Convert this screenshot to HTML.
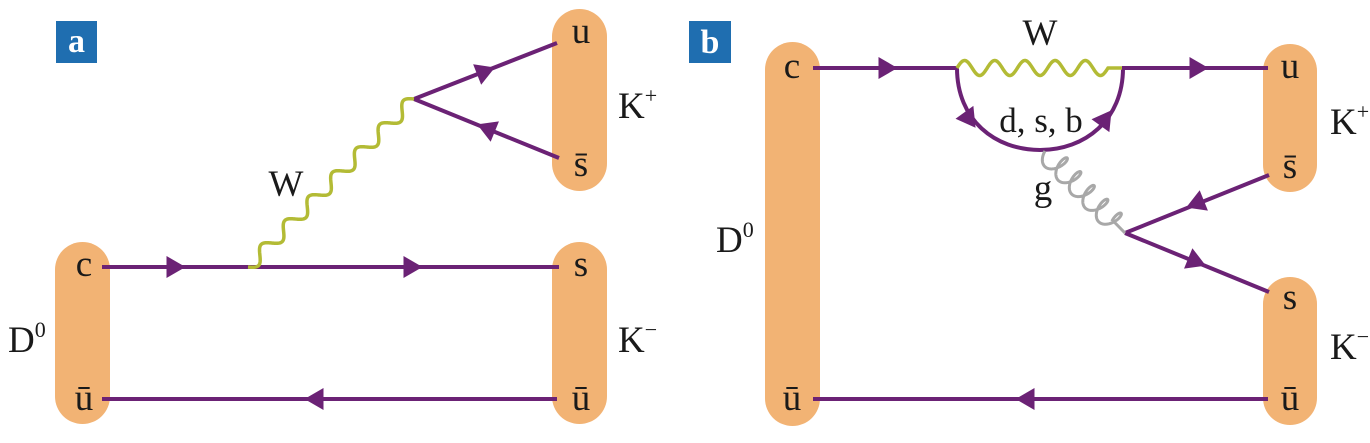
<!DOCTYPE html>
<html><head><meta charset="utf-8"><style>
html,body{margin:0;padding:0;background:#fff;}
svg{display:block;}
text{font-family:"Liberation Serif",serif;fill:#1a1a1a;}
.b{font-family:"Liberation Serif",serif;font-weight:bold;fill:#fff;}
</style></head><body>
<svg id="s" width="1370" height="443" viewBox="0 0 1370 443" xmlns="http://www.w3.org/2000/svg">
<g fill="#f2b374">
<rect x="55" y="242" width="55" height="182" rx="27.5"/>
<rect x="552" y="9" width="55" height="182" rx="27.5"/>
<rect x="552" y="242" width="55" height="182" rx="27.5"/>
<rect x="765" y="42" width="55" height="384" rx="27.5"/>
<rect x="1263" y="44" width="54" height="148" rx="27"/>
<rect x="1263" y="277" width="54" height="148" rx="27"/>
</g>
<rect x="56" y="21" width="41" height="42" fill="#1f6eb0"/>
<text class="b" x="76.5" y="52" font-size="34" text-anchor="middle">a</text>
<rect x="689" y="21" width="42" height="42" fill="#1f6eb0"/>
<text class="b" x="710" y="53" font-size="34" text-anchor="middle">b</text>
<g id="lines" stroke="#6b2275" stroke-width="4" fill="none">
<line x1="102" y1="267" x2="559" y2="267"/>
<line x1="102" y1="399" x2="557" y2="399"/>
<line x1="414" y1="99" x2="557" y2="43"/>
<line x1="414" y1="99" x2="559" y2="158"/>
<line x1="813" y1="68" x2="957" y2="68"/>
<line x1="1122" y1="68" x2="1268" y2="68"/>
<line x1="813" y1="399" x2="1268" y2="399"/>
<line x1="1125" y1="233" x2="1269" y2="175"/>
<line x1="1125" y1="233" x2="1269" y2="292"/>
<path d="M957 68 C957 120 995 150 1040 150 C1085 150 1123 120 1123 68"/>
</g>
<g id="dyn"></g>
<g font-size="37" text-anchor="middle">
<text x="84" y="276">c</text>
<text x="84" y="410">ū</text>
<text x="581" y="43">u</text>
<text x="581" y="176">s̄</text>
<text x="581" y="276">s</text>
<text x="581" y="410">ū</text>
<text x="792" y="78">c</text>
<text x="792" y="410">ū</text>
<text x="1290" y="78">u</text>
<text x="1290" y="178">s̄</text>
<text x="1290" y="309">s</text>
<text x="1290" y="410">ū</text>
<text x="1041" y="132" font-size="35">d, s, b</text>
<text x="1043" y="200">g</text>
<text x="286" y="196">W</text>
<text x="1040" y="45">W</text>
</g>
<g font-size="37">
<text x="8" y="352">D<tspan font-size="22" dy="-15">0</tspan></text>
<text x="618" y="118">K<tspan font-size="22" dy="-15">+</tspan></text>
<text x="618" y="352">K<tspan font-size="22" dy="-15">−</tspan></text>
<text x="716" y="252">D<tspan font-size="22" dy="-15">0</tspan></text>
<text x="1330" y="134">K<tspan font-size="22" dy="-15">+</tspan></text>
<text x="1330" y="359">K<tspan font-size="22" dy="-15">−</tspan></text>
</g>
</svg>
<script>
var NS="http://www.w3.org/2000/svg",g=document.getElementById("dyn");
function el(n,a){var e=document.createElementNS(NS,n);for(var k in a)e.setAttribute(k,a[k]);g.appendChild(e);return e;}
function arrow(x,y,ang){var L=19,W=11,c=Math.cos(ang),s=Math.sin(ang);
var tx=x+c*L/2,ty=y+s*L/2,bx=x-c*L/2,by=y-s*L/2;
el("polygon",{points:tx+","+ty+" "+(bx-s*W)+","+(by+c*W)+" "+(bx+s*W)+","+(by-c*W),fill:"#6b2275"});}
function wave(x1,y1,x2,y2,n,A,col,flat){var dx=x2-x1,dy=y2-y1,L=Math.hypot(dx,dy),ux=dx/L,uy=dy/L,px=-uy,py=ux;
var d="",N=400,Lw=L-(flat||0);for(var i=0;i<=N;i++){var t=i/N*L,off=t<=Lw?A*Math.sin(2*Math.PI*n*t/Lw):0;
var x=x1+ux*t+px*off,y=y1+uy*t+py*off;d+=(i?"L":"M")+x.toFixed(2)+" "+y.toFixed(2);}
el("path",{d:d,stroke:col,"stroke-width":3.5,fill:"none"});}
function coil(x1,y1,x2,y2,n,R,K,col){var dx=x2-x1,dy=y2-y1,L=Math.hypot(dx,dy),ux=dx/L,uy=dy/L,px=-uy,py=ux;
var d="",N=600,Lc=L-2*K-6;for(var i=0;i<=N;i++){var f=i/N,th=2*Math.PI*n*f;
var a=Lc*f+K*(1-Math.cos(th)), b=R*Math.sin(th);
var x=x1+ux*a+px*b,y=y1+uy*a+py*b;d+=(i?"L":"M")+x.toFixed(2)+" "+y.toFixed(2);}
d+="L"+x2+" "+y2;
el("path",{d:d,stroke:"#a8a8a8","stroke-width":3,fill:"none"});}
wave(248,267,414,99,7,6.5,"#b3bb35",0);
wave(957,68,1122,68,5,-7.5,"#b3bb35",14);
coil(1045,151,1125,233,5,11,6,"#aaa");
arrow(176,267,0);arrow(413,267,0);arrow(314,399,Math.PI);
arrow(486,71,Math.atan2(43-99,557-414));
arrow(486,128,Math.atan2(99-158,414-559));
arrow(888,68,0);arrow(1199,68,0);arrow(1025,399,Math.PI);
arrow(970,120,Math.atan2(25,18));arrow(1106,118,Math.atan2(-25,18));
arrow(1195,204,Math.atan2(233-175,1125-1269));
arrow(1197,262,Math.atan2(292-233,1269-1125));
</script>
</body></html>
